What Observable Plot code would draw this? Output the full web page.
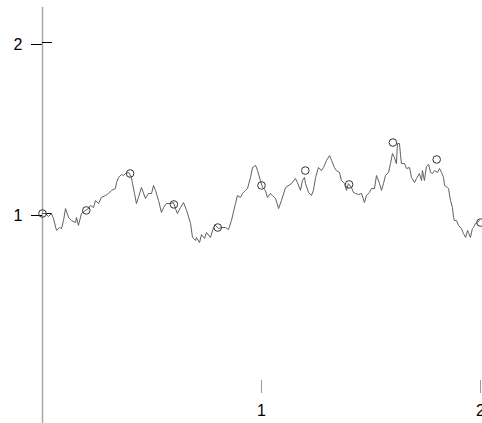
<!DOCTYPE html>
<html>
<head>
<meta charset="utf-8">
<script src="https://cdn.jsdelivr.net/npm/d3@7"></script>
<script src="https://cdn.jsdelivr.net/npm/@observablehq/plot@0.6"></script>
<style>
  html, body { margin: 0; padding: 0; background: #fff; }
  #chart { width: 482px; height: 423px; overflow: hidden; }
</style>
</head>
<body>
<div id="chart"></div>
<script>
// Random-walk series
const pathX = [0,0.014,0.027,0.041,0.050,0.064,0.078,0.087,0.096,0.105,0.119,0.132,0.151,0.155,0.164,0.178,0.196,0.210,0.219,0.233,0.242,0.256,0.269,0.288,0.301,0.315,0.333,0.338,0.347,0.361,0.370,0.379,0.393,0.406,0.411,0.420,0.429,0.438,0.452,0.470,0.484,0.498,0.507,0.516,0.530,0.543,0.553,0.566,0.584,0.598,0.607,0.616,0.630,0.644,0.658,0.676,0.685,0.699,0.703,0.717,0.726,0.740,0.749,0.767,0.781,0.790,0.804,0.817,0.836,0.849,0.863,0.881,0.890,0.904,0.913,0.927,0.936,0.950,0.959,0.973,0.982,0.995,1.005,1.018,1.027,1.041,1.050,1.064,1.078,1.091,1.110,1.137,1.155,1.164,1.178,1.187,1.196,1.201,1.215,1.228,1.237,1.247,1.260,1.274,1.283,1.297,1.311,1.320,1.333,1.342,1.356,1.365,1.379,1.388,1.397,1.411,1.420,1.429,1.443,1.457,1.470,1.479,1.493,1.502,1.516,1.525,1.539,1.548,1.557,1.566,1.580,1.589,1.598,1.607,1.616,1.621,1.630,1.635,1.639,1.653,1.662,1.676,1.685,1.699,1.708,1.721,1.731,1.735,1.744,1.753,1.763,1.772,1.781,1.790,1.804,1.813,1.822,1.831,1.836,1.849,1.854,1.863,1.872,1.877,1.881,1.890,1.900,1.913,1.922,1.932,1.941,1.945,1.954,1.963,1.968,1.977,1.986,1.995];
const pathY = [1.000,1.000,0.982,1.000,0.971,0.901,0.918,0.912,0.959,1.029,0.977,0.959,0.947,0.977,0.930,1.000,1.018,1.029,1.047,1.035,1.076,1.058,1.094,1.105,1.117,1.135,1.146,1.181,1.211,1.228,1.222,1.234,1.240,1.211,1.175,1.117,1.058,1.094,1.152,1.088,1.117,1.117,1.164,1.135,1.076,1.006,1.035,1.058,1.058,1.064,1.029,1.000,1.035,1.064,1.018,0.942,0.860,0.842,0.860,0.830,0.877,0.854,0.889,0.860,0.918,0.930,0.912,0.918,0.918,0.906,0.959,1.058,1.105,1.094,1.117,1.135,1.146,1.211,1.269,1.281,1.251,1.193,1.152,1.135,1.094,1.117,1.105,1.088,1.029,1.076,1.152,1.175,1.205,1.181,1.135,1.193,1.211,1.175,1.123,1.105,1.135,1.211,1.269,1.251,1.269,1.310,1.339,1.310,1.269,1.251,1.240,1.193,1.175,1.135,1.175,1.152,1.123,1.117,1.111,1.117,1.064,1.105,1.123,1.146,1.146,1.222,1.175,1.135,1.175,1.222,1.240,1.292,1.351,1.327,1.292,1.409,1.409,1.339,1.292,1.292,1.263,1.269,1.211,1.181,1.205,1.234,1.193,1.251,1.193,1.275,1.287,1.240,1.234,1.251,1.240,1.263,1.240,1.211,1.164,1.152,1.146,1.076,1.035,0.977,0.959,0.959,0.930,0.912,0.883,0.860,0.901,0.889,0.860,0.912,0.918,0.942,0.947,0.959];

// Sampled points shown as circles
const sampleX = [0,0.2,0.4,0.6,0.8,1.0,1.2,1.4,1.6,1.8,2.0];
const sampleY = [1.000,1.018,1.234,1.053,0.918,1.164,1.251,1.170,1.415,1.316,0.947];

// Tick values
const xTicks = [1, 2];
const yTicks = [1, 2];

const path = pathX.map((x, i) => ({x, y: pathY[i]}));
const samples = sampleX.map((x, i) => ({x, y: sampleY[i]}));
const fmt = d3.format("d");

const chart = Plot.plot({
  width: 482,
  height: 423,
  marginLeft: 42,
  marginRight: 2,
  marginTop: 7,
  marginBottom: 43,
  style: {fontFamily: "'Liberation Sans', Arial, sans-serif", fontSize: "16px", color: "#000", background: "#fff"},
  x: {domain: [0, 2], axis: null},
  y: {domain: [0, 2], range: [384, 42], axis: null},
  marks: [
    Plot.ruleX([0], {stroke: "#a8a8a8", strokeWidth: 1.5, insetBottom: -43}),
    Plot.axisY({ticks: yTicks, tickSize: 11, tickPadding: 9, tickFormat: fmt, label: null, stroke: "#000", fill: "#000", fontSize: 16, fontWeight: 500, dy: 2}),
    Plot.axisY({ticks: yTicks, tickSize: -10, tickFormat: () => "", label: null, stroke: "#000"}),
    Plot.axisX({ticks: xTicks, anchor: "bottom", tickSize: 13, tickPadding: 11, tickFormat: fmt, label: null, stroke: "#999", fill: "#000", fontSize: 16, fontWeight: 500}),
    Plot.line(path, {x: "x", y: "y", stroke: "#606060", strokeWidth: 1}),
    Plot.dot(samples, {x: "x", y: "y", r: 3.8, stroke: "#333", strokeWidth: 1, fill: "none"})
  ]
});
document.getElementById("chart").appendChild(chart);
</script>
</body>
</html>
